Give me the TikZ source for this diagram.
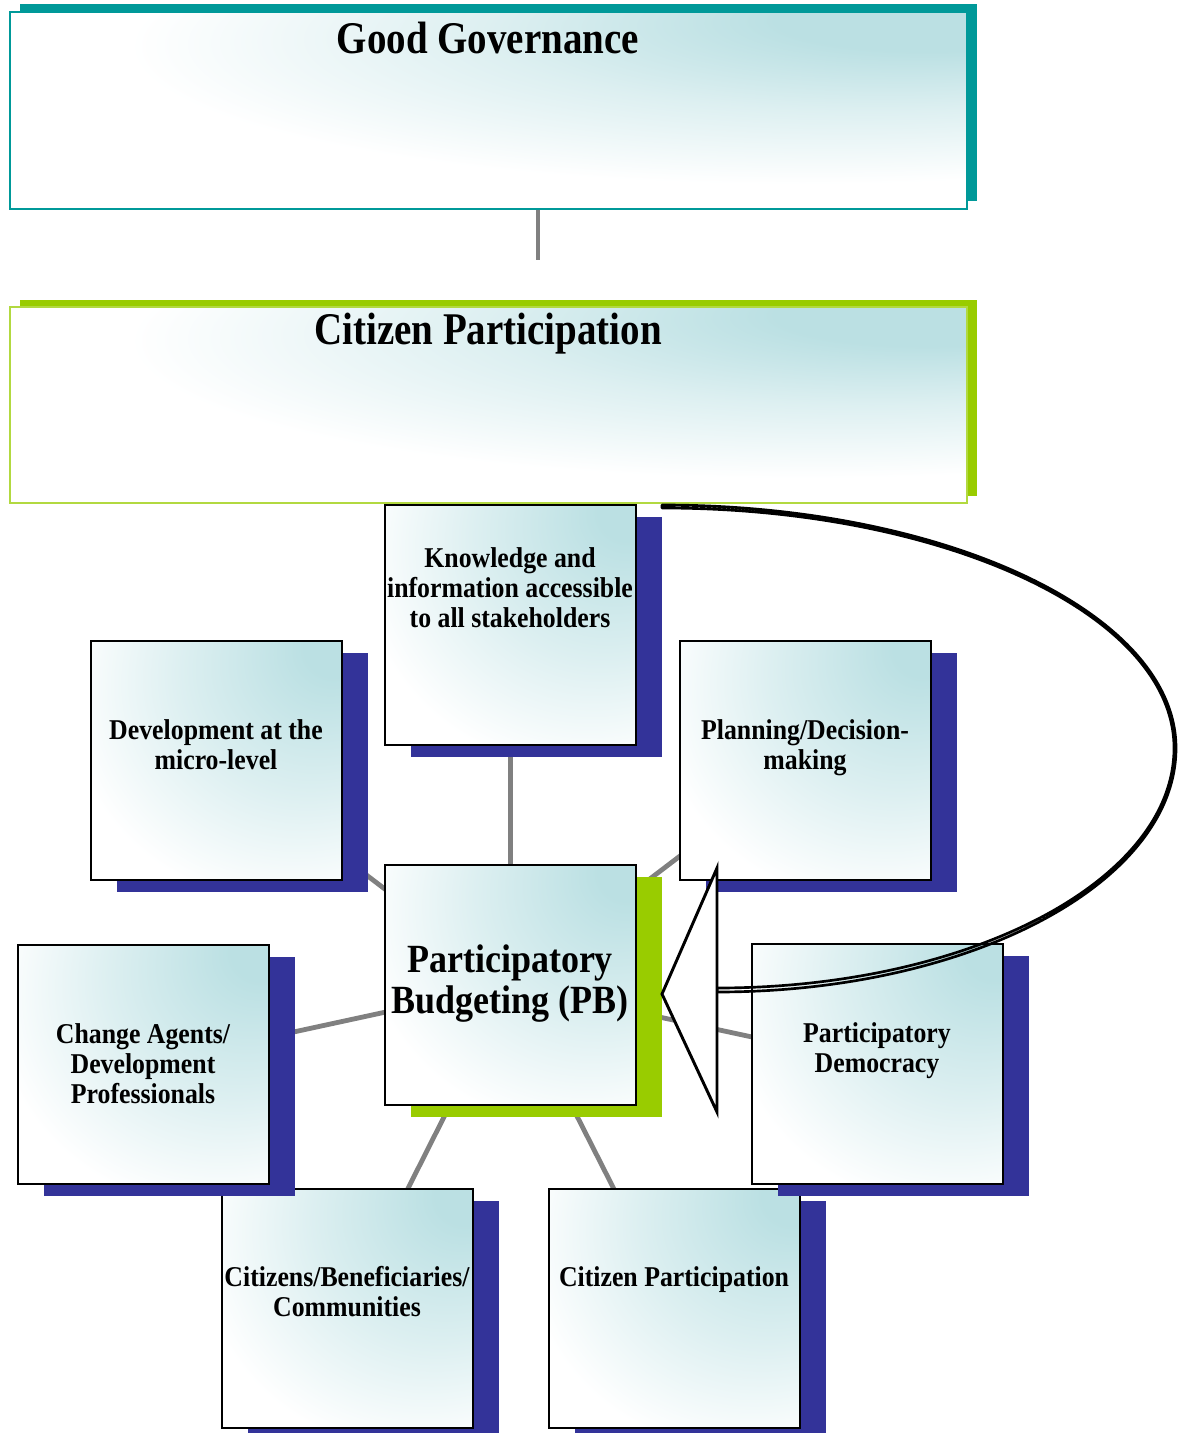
\documentclass[tikz,border=0pt]{standalone}
\usepackage{fontspec}
\setmainfont{Liberation Serif}
\newfontfamily\titlefont[FakeStretch=0.86]{Liberation Serif}
\newfontfamily\boxfont[FakeStretch=0.9]{Liberation Serif}
\usetikzlibrary{fit,backgrounds}

\definecolor{boxteal}{RGB}{187,224,227}
\definecolor{govteal}{RGB}{0,153,153}
\definecolor{partgreen}{RGB}{153,204,0}
\definecolor{navyshadow}{RGB}{51,51,153}
\definecolor{spokegray}{RGB}{128,128,128}

% light teal glow in the upper right corner, fading to white
\pgfdeclareradialshading{cornerglow}{\pgfpoint{25bp}{25bp}}{%
  color(0bp)=(boxteal); color(6bp)=(boxteal); color(26bp)=(boxteal!50!white);
  color(44bp)=(white); color(100bp)=(white)}
% same glow, with a shorter reach for the wide frames
\pgfdeclareradialshading{wideglow}{\pgfpoint{25bp}{25bp}}{%
  color(0bp)=(boxteal); color(8bp)=(boxteal); color(20bp)=(boxteal!50!white);
  color(35bp)=(white); color(100bp)=(white)}

\begin{document}
\begin{tikzpicture}[x=0.75pt,y=-0.75pt,
  glow/.style={shade, shading=cornerglow},
  widebox/.style={shade, shading=wideglow, inner sep=0pt, line width=1.1pt},
  smallbox/.style={glow, draw=black, line width=1.5pt, inner sep=0pt,
    preaction={fill=navyshadow, draw=none, transform canvas={shift={(26,12)}}}},
  titletext/.style={font=\titlefont\bfseries\fontsize{34}{38}\selectfont, inner sep=0pt},
  boxtext/.style={font=\boxfont\bfseries\fontsize{21.5}{22.5}\selectfont, align=center, inner sep=0pt},
  hubtext/.style={font=\boxfont\bfseries\fontsize{30}{30.75}\selectfont, align=center, inner sep=0pt},
  spoke/.style={draw=spokegray, line width=3.6pt},
  calloutline/.style={draw=black, line width=2pt, line join=round},
  arrowhead/.style={draw=black, fill=white, line width=2.2pt, line join=miter}
]
\useasboundingbox (0,0) rectangle (1178,1433);

% top level frames
\node[widebox, draw=govteal,
  preaction={fill=govteal, draw=none, transform canvas={shift={(10,-8)}}},
  fit={(10,12)(967,209)}] (GG) {};
\node[titletext] (GGt) at (488,38) {Good Governance};

\node[widebox, draw=partgreen!75!white,
  preaction={fill=partgreen, draw=none, transform canvas={shift={(10,-7)}}},
  fit={(10,307)(967,503)}] (CP) {};
\node[titletext] (CPt) at (488,334) {Citizen Participation};

\coordinate (GGend) at (538,260);
\draw[draw=spokegray, line width=3pt] (GGend |- GG.south) -- (GGend);

% surrounding boxes
\node[smallbox, fit={(385,505)(636,745)}] (K) {};
\node[boxtext] (Kt) at (510,588) {Knowledge and\\information accessible\\to all stakeholders};

\node[smallbox, fit={(91,641)(342,880)}] (D) {};
\node[boxtext] (Dt) at (216,745) {Development at the\\micro-level};

\node[smallbox, fit={(680,641)(931,880)}] (P) {};
\node[boxtext] (Pt) at (805,748) {Planning/Decision-\\making};

% hub
\node[glow, draw=black, line width=1.5pt, inner sep=0pt,
  preaction={fill=partgreen, draw=none, transform canvas={shift={(26,12)}}},
  fit={(385,865)(636,1105)}] (PB) {};
\node[hubtext] (PBt) at (510,984) {Participatory\\Budgeting (PB)};

\node[smallbox, fit={(222,1189)(473,1428)}] (CB) {};
\node[boxtext] (CBt) at (347,1292) {Citizens/Beneficiaries/\\Communities};

\node[smallbox, fit={(549,1189)(800,1428)}] (CS) {};
\node[boxtext] (CSt) at (674,1280) {Citizen Participation};

\node[smallbox, fit={(18,945)(269,1184)}] (CA) {};
\node[boxtext] (CAt) at (143,1064) {Change Agents/\\Development\\Professionals};

\node[smallbox, fit={(752,944)(1003,1184)}] (PD) {};
\node[boxtext] (PDt) at (877,1051) {Participatory\\Democracy};

% spokes from the hub, behind everything
\begin{scope}[on background layer]
  \foreach \n in {K,D,P,CA,PD,CB,CS}
    \draw[spoke] (PB.center) -- (\n.center);
\end{scope}

% curved callout arrow pointing back at the hub
\draw[calloutline]
  (662,505) .. controls (946,505) and (1176,614) .. (1176,748)
  .. controls (1176,883) and (970,992) .. (717,992)
  -- (717,988)
  .. controls (969,988) and (1174,881) .. (1174,748)
  .. controls (1174,615) and (945,508) .. (662,508) -- cycle;
\draw[arrowhead] (717,868) -- (662,994) -- (717,1112) -- cycle;
\end{tikzpicture}
\end{document}
